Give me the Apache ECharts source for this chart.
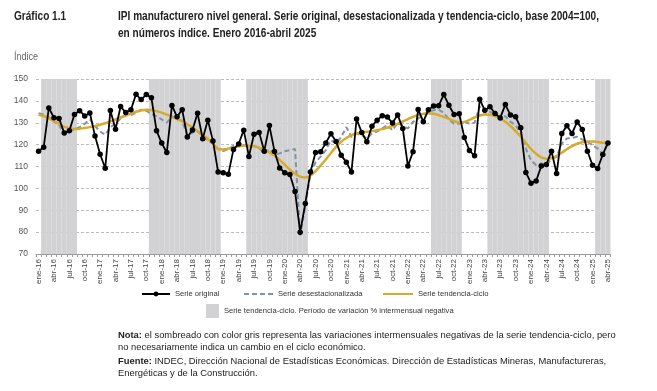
<!DOCTYPE html>
<html>
<head>
<meta charset="utf-8">
<script src="https://cdn.jsdelivr.net/npm/echarts@6/dist/echarts.min.js"></script>
<style>
html,body{margin:0;padding:0;background:#fff;}
#chart{width:657px;height:391px;}
</style>
</head>
<body>
<div id="chart"></div>
<script>
// ---- Data ----
const monthNames = ['ene','feb','mar','abr','may','jun','jul','ago','sep','oct','nov','dic'];
const yearLabels = ['16','17','18','19','20','21','22','23','24','25'];
const lastMonthCount = 4; // enero-abril 2025
const categories = [];
yearLabels.forEach((y, yi) => {
  const n = (yi === yearLabels.length - 1) ? lastMonthCount : 12;
  for (let m = 0; m < n; m++) categories.push(monthNames[m] + '-' + y);
});

const serieOriginal = [
  117.0,118.8,136.8,132.3,132.0,125.3,126.3,133.8,135.5,133.1,134.5,124.0,
  115.6,109.2,135.6,127.0,137.4,134.7,135.9,143.0,140.6,142.9,141.4,126.4,
  120.7,116.4,137.9,132.7,136.0,123.5,126.7,134.3,122.7,131.2,121.7,107.5,
  107.1,106.5,117.8,120.3,126.6,114.6,124.7,125.6,117.0,128.7,116.9,109.3,
  107.2,106.3,98.6,80.0,93.1,107.5,116.4,116.8,120.8,125.0,121.4,115.1,
  112.0,107.5,131.7,125.6,121.3,128.4,131.2,133.2,132.6,129.9,133.6,127.4,
  110.2,116.8,136.1,130.5,135.9,137.7,137.8,142.9,138.0,133.8,134.1,123.3,
  117.3,114.9,140.7,135.7,137.3,134.2,132.2,138.3,133.5,132.7,127.7,107.3,
  102.4,103.4,110.2,110.9,117.0,106.8,125.1,128.6,125.1,130.4,126.9,117.0,
  110.6,109.1,115.5,120.8
];

const serieDesestacionalizada = [
  134.3,133.8,132.5,130.5,129.0,124.8,125.8,127.0,128.0,129.5,131.5,128.5,
  126.0,124.5,128.0,129.5,132.0,133.5,133.5,134.5,136.0,135.5,134.0,133.0,
  131.5,130.0,133.0,131.5,131.0,124.0,125.5,126.0,124.0,122.0,120.5,118.0,
  117.0,118.0,119.5,120.0,120.5,119.0,119.5,118.5,116.0,118.0,115.5,116.0,
  117.0,117.5,118.0,78.5,92.0,106.5,112.0,114.5,117.5,122.0,120.5,123.5,
  128.0,123.5,125.0,124.3,122.8,125.1,126.0,127.4,128.9,126.5,130.0,128.5,
  127.4,130.4,131.9,133.5,135.0,135.7,136.0,134.5,131.5,129.6,129.6,130.4,
  129.6,130.0,137.5,134.5,135.0,134.0,132.7,133.0,130.4,128.9,125.1,118.2,
  112.9,110.6,111.4,110.9,113.4,114.4,120.5,122.8,123.1,123.6,122.3,121.3,
  119.8,118.2,115.9,120.5
];

const serieTendencia = [
  133.8,133.0,132.0,130.8,129.5,128.2,127.5,127.2,127.3,127.6,128.0,128.5,
  129.1,129.8,130.6,131.5,132.4,133.3,134.2,135.0,135.6,135.9,135.8,135.3,
  134.6,133.7,132.7,131.7,130.6,129.3,127.8,126.2,124.4,122.6,120.6,118.0,
  117.8,118.2,118.7,119.2,119.6,119.5,119.2,118.6,117.7,116.5,115.0,113.0,
  110.8,108.6,106.7,105.4,105.0,105.9,107.9,110.5,113.2,116.2,119.0,121.3,
  123.0,124.3,125.1,125.6,125.9,126.2,126.6,127.1,127.7,128.5,129.5,130.6,
  131.7,132.7,133.5,134.1,134.3,134.1,133.5,132.6,131.8,130.8,130.2,130.4,
  131.3,132.4,133.3,133.8,133.7,133.1,132.0,130.5,128.5,126.2,123.6,120.8,
  118.0,115.8,114.2,113.6,113.8,114.8,116.3,117.9,119.3,120.4,121.1,121.4,
  121.4,121.2,120.9,120.6
];

// Periods of negative month-on-month variation of the trend-cycle series
const shadedRanges = [
  ['feb-16','ago-16'],
  ['nov-17','dic-18'],
  ['jun-19','may-20'],
  ['jun-22','nov-22'],
  ['may-23','abr-24'],
  ['feb-25','abr-25']
];

const yMin = 70, yMax = 150, yInterval = 10;

// ---- Build ----
const shadeData = categories.map(() => '-');
shadedRanges.forEach(([a, b]) => {
  const s = categories.indexOf(a), e = categories.indexOf(b);
  for (let i = s; i <= e; i++) shadeData[i] = yMax;
});

const nameOrig = 'Serie original';
const nameDes = 'Serie desestacionalizada';
const nameTend = 'Serie tendencia-ciclo';
const nameShade = 'Serie tendencia-ciclo. Período de variación % intermensual negativa';

const titleFont = 'bold 12px "Liberation Sans", Arial, sans-serif';
const titleLine1 = 'IPI manufacturero nivel general. Serie original, desestacionalizada y tendencia-ciclo, base 2004=100,';
const titleLine2 = 'en números índice. Enero 2016-abril 2025';
const ctx = document.createElement('canvas').getContext('2d');
ctx.font = titleFont;
const titleScale = 481 / ctx.measureText(titleLine1).width;

const chart = echarts.init(document.getElementById('chart'), null, {renderer: 'canvas'});
const legendText = {fontSize: 7.6, color: '#333', fontFamily: 'Liberation Sans, Arial, sans-serif'};
const hiddenSym = {color: 'rgba(0,0,0,0)', borderColor: 'rgba(0,0,0,0)', borderWidth: 0};

chart.setOption({
  animation: false,
  backgroundColor: '#ffffff',
  grid: {left: 36, right: 46.5, top: 79, bottom: 137, containLabel: false},
  xAxis: {
    type: 'category',
    data: categories,
    boundaryGap: true,
    axisLine: {show: true, lineStyle: {color: '#9a9a9a', width: 1}},
    axisTick: {show: true, interval: 0, length: 3, lineStyle: {color: '#9a9a9a'}},
    axisLabel: {
      interval: 2, rotate: 90, margin: 5,
      fontSize: 8, color: '#444', fontFamily: 'Liberation Sans, Arial, sans-serif'
    },
    splitLine: {show: false}
  },
  yAxis: {
    type: 'value',
    min: yMin, max: yMax, interval: yInterval,
    axisLine: {show: false},
    axisTick: {show: false},
    axisLabel: {margin: 8, fontSize: 8.5, color: '#555', fontFamily: 'Liberation Sans, Arial, sans-serif'},
    splitLine: {show: true, lineStyle: {color: '#bdbdbd', type: [3, 2], width: 1}}
  },
  legend: [
    {data: [{name: nameOrig, itemStyle: {color: '#000'}}], left: 141, top: 290, padding: 0, itemWidth: 28, itemHeight: 6, textStyle: legendText, selectedMode: false},
    {data: [{name: nameDes, itemStyle: hiddenSym}], left: 243, top: 290, padding: 0, itemWidth: 29, itemHeight: 8, textStyle: legendText, selectedMode: false},
    {data: [{name: nameTend, itemStyle: hiddenSym}], left: 382, top: 290, padding: 0, itemWidth: 30, itemHeight: 8, textStyle: legendText, selectedMode: false},
    {data: [{name: nameShade, icon: 'rect'}], left: 206, top: 304, padding: 0, itemWidth: 13, itemHeight: 14, textStyle: legendText, selectedMode: false}
  ],
  series: [
    {
      name: nameShade, type: 'bar', data: shadeData,
      barWidth: '100%', barGap: '-100%', clip: true,
      itemStyle: {color: '#d2d2d4'}, silent: true, z: 1
    },
    {
      name: nameDes, type: 'line', data: serieDesestacionalizada,
      symbol: 'none', lineStyle: {color: '#7f94ab', width: 2, type: [5, 3]},
      itemStyle: {color: '#7f94ab'}, z: 3
    },
    {
      name: nameTend, type: 'line', data: serieTendencia, smooth: 0.4,
      symbol: 'none', lineStyle: {color: '#d6ab2c', width: 2.5},
      itemStyle: {color: '#d6ab2c'}, z: 4
    },
    {
      name: nameOrig, type: 'line', data: serieOriginal,
      symbol: 'circle', symbolSize: 5.5, showAllSymbol: true,
      lineStyle: {color: '#000', width: 1.8},
      itemStyle: {color: '#000'}, z: 5
    }
  ],
  graphic: [
    {type: 'text', x: 14, y: 17, scaleX: titleScale, style: {text: 'Gráfico 1.1', font: titleFont, fill: '#222', verticalAlign: 'middle'}},
    {type: 'text', x: 118, y: 17, scaleX: titleScale, style: {text: titleLine1, font: titleFont, fill: '#222', verticalAlign: 'middle'}},
    {type: 'text', x: 118, y: 33.5, scaleX: titleScale, style: {text: titleLine2, font: titleFont, fill: '#222', verticalAlign: 'middle'}},
    {type: 'text', x: 14, y: 57, scaleX: 0.9, style: {text: 'Índice', font: '10px "Liberation Sans", Arial, sans-serif', fill: '#666', verticalAlign: 'middle'}},
    {type: 'text', left: 118, top: 330, style: {
      text: '{b|Nota:} el sombreado con color gris representa las variaciones intermensuales negativas de la serie tendencia-ciclo, pero\nno necesariamente indica un cambio en el ciclo económico.',
      font: '9.4px "Liberation Sans", Arial, sans-serif', fill: '#222', lineHeight: 11.5,
      rich: {b: {fontWeight: 'bold', fontSize: 9.4, fontFamily: 'Liberation Sans, Arial, sans-serif', fill: '#222'}}
    }},
    {type: 'text', left: 118, top: 356, style: {
      text: '{b|Fuente:} INDEC, Dirección Nacional de Estadísticas Económicas. Dirección de Estadísticas Mineras, Manufactureras,\nEnergéticas y de la Construcción.',
      font: '9.4px "Liberation Sans", Arial, sans-serif', fill: '#222', lineHeight: 11.5,
      rich: {b: {fontWeight: 'bold', fontSize: 9.4, fontFamily: 'Liberation Sans, Arial, sans-serif', fill: '#222'}}
    }}
  ]
});
</script>
</body>
</html>
